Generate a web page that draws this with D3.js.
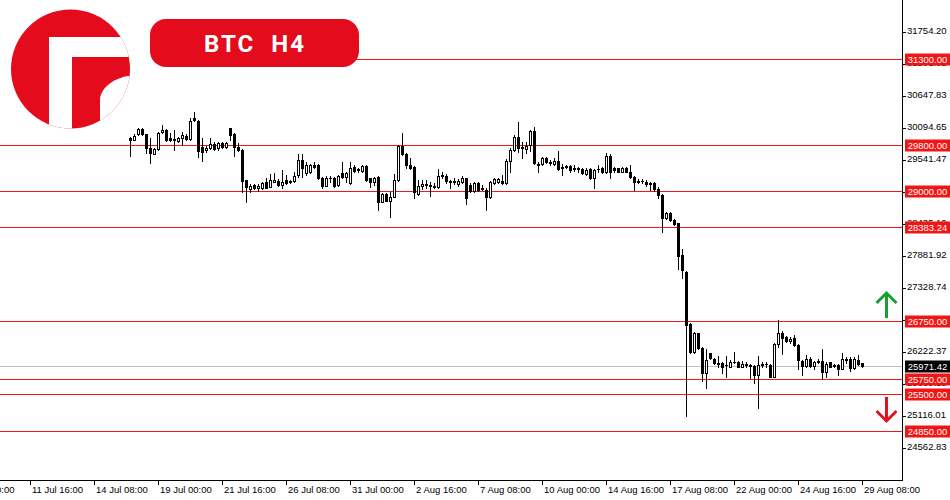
<!DOCTYPE html>
<html>
<head>
<meta charset="utf-8">
<script src="https://cdn.jsdelivr.net/npm/d3@7/dist/d3.min.js"></script>
<style>
  body { margin: 0; background: #fff; }
  svg { display: block; }
  .tick-label { font-family: "Liberation Sans", Arial, sans-serif; font-size: 9.5px; fill: #000; }
</style>
</head>
<body>
<div id="chart"></div>
<script>
// BTC H4 candles (17 Jul 20:00 .. 29 Aug 08:00)
var opens = [29918,29895,29987,30080,29987,29756,29652,29733,30022,30068,29918,29906,29872,29918,29958,29906,30264,30218,29774,29710,
  29745,29814,29745,29831,29774,30091,29987,29774,29716,29191,29041,29110,29064,29052,29156,29081,29168,29179,29110,29197,
  29168,29179,29283,29543,29312,29329,29456,29456,29237,29099,29225,29225,29110,29312,29254,29139,29427,29387,29352,29439,
  29225,29168,29254,28821,28954,28839,28908,29197,29791,29641,29456,29427,28949,29099,29122,29110,29099,29081,29266,29272,
  29185,29168,29127,29168,29225,29110,29006,29139,29064,29024,28908,29139,29168,29179,29139,29526,29716,29947,29774,29728,
  29803,30045,29468,29468,29583,29514,29480,29526,29427,29422,29445,29410,29393,29387,29295,29387,29225,29381,29399,29341,
  29618,29399,29399,29341,29410,29341,29248,29179,29173,29168,29139,29139,29041,28937,28533,28620,28504,28447,27899,27610,
  26704,26225,26543,26283,25862,26196,26093,26023,26023,25989,25966,26046,26052,25966,26012,26000,25977,25821,25995,26006,
  26000,25793,26358,26554,26473,26410,26468,26341,26064,25983,26093,25983,26046,26064,25879,26041,25989,25989,25931,26087,
  26093,25937,26081,26023];
var highs = [29947,29987,30103,30091,29999,29918,29756,30022,30149,30080,30004,30062,29947,30033,29987,30276,30380,30230,29918,29779,
  29918,29849,29860,29860,29860,30103,30004,29831,29733,29202,29121,29133,29121,29156,29237,29295,29312,29214,29364,29283,
  29197,29341,29641,29641,29514,29468,29514,29468,29248,29260,29272,29248,29283,29502,29341,29502,29456,29410,29456,29456,
  29237,29254,29272,28966,28966,28983,29295,29803,30005,29658,29572,29439,29197,29191,29197,29168,29139,29387,29341,29306,
  29197,29237,29214,29272,29237,29139,29168,29156,29110,29052,29179,29237,29237,29283,29554,29745,29976,30207,29860,29860,
  30062,30114,29514,29601,29601,29543,29572,29699,29468,29456,29456,29456,29427,29399,29399,29399,29387,29456,29427,29670,
  29641,29427,29410,29427,29427,29456,29260,29214,29214,29197,29168,29168,29081,28949,28637,28637,28521,28459,27997,27622,
  26716,26560,26554,26300,26266,26208,26110,26150,26052,26150,26081,26214,26064,26070,26052,26012,25995,26150,26052,26052,
  26012,26370,26774,26589,26497,26485,26514,26358,26081,26168,26127,26070,26093,26266,26052,26052,26012,26012,26196,26139,
  26139,26139,26162,26035];
var lows = [29618,29884,29976,29976,29658,29485,29641,29722,30010,29872,29872,29716,29849,29803,29884,29895,30218,29601,29531,29687,
  29733,29716,29716,29745,29745,29889,29618,29699,28983,28821,28983,29041,29006,29041,29052,29070,29156,29099,29064,29127,
  29150,29168,29254,29254,29283,29312,29410,29214,29052,29087,29168,29081,29099,29237,29168,29122,29341,29341,29329,29179,
  29081,29110,28677,28810,28833,28562,28897,29179,29629,29399,29387,28891,28937,29041,29052,28925,29052,29064,29225,29139,
  29064,29122,29099,29139,28776,28995,28995,29006,29024,28677,28891,29122,29139,29127,29127,29341,29699,29676,29583,29658,
  29699,29474,29341,29456,29485,29456,29456,29370,29283,29399,29341,29352,29329,29295,29283,29214,29064,29341,29312,29312,
  29225,29341,29329,29329,29329,29225,29024,29139,29139,29099,29024,29006,28879,28302,28521,28487,28418,27651,27495,25112,
  26208,26208,26266,25723,25590,26093,26012,25954,25850,25781,25954,26023,25954,25954,25966,25764,25689,25256,25954,25966,
  25781,25781,26312,26185,26387,26370,26323,25920,25821,25966,25966,25931,26023,25752,25793,25954,25954,25821,25919,26023,
  25896,25919,26000,25954];
var closes = [29884,29964,30080,29987,29745,29658,29733,30004,30062,29889,29884,29889,29929,29976,29906,30218,30230,29699,29687,29756,
  29814,29733,29831,29774,29831,29976,29774,29716,29179,29081,29099,29064,29099,29145,29064,29197,29197,29110,29168,29139,
  29179,29272,29543,29399,29456,29456,29427,29225,29099,29237,29237,29099,29272,29254,29312,29410,29352,29376,29439,29197,
  29168,29237,28821,28954,28839,28897,29197,29791,29641,29456,29410,28983,29099,29122,29104,29099,29075,29272,29277,29185,
  29168,29179,29179,29225,28891,29006,29139,29018,29041,28908,29168,29214,29214,29139,29526,29716,29947,29745,29745,29791,
  30045,29485,29456,29583,29502,29485,29526,29387,29410,29433,29370,29393,29399,29312,29370,29225,29370,29393,29341,29618,
  29341,29370,29341,29410,29341,29248,29168,29168,29179,29122,29122,29041,28937,28544,28620,28504,28429,27882,27639,26687,
  26225,26543,26283,25862,26081,26110,26023,26012,25954,26000,26052,26052,25966,26012,25989,25972,25821,25989,26012,26012,
  25793,26358,26543,26456,26410,26450,26341,26081,25983,26093,25983,26046,26064,25879,26012,25966,25977,25919,26093,26098,
  25948,26093,26012,25971];

// support / resistance levels and the current bid
var levels = [31300.00, 29800.00, 29000.00, 28383.24, 26750.00, 25750.00, 25500.00, 24850.00];
var lastPrice = 25971.42;

// right price scale ticks
var priceTicks = [31754.20, 31201.02, 30647.83, 30094.65, 29541.47, 28988.29, 28435.10,
  27881.92, 27328.74, 26775.56, 26222.37, 25669.19, 25116.01, 24562.83];

// time axis: bar index of each label (0 = first candle)
var timeLabels = ["7 Jul 00:00", "11 Jul 16:00", "14 Jul 08:00", "19 Jul 00:00", "21 Jul 16:00", "26 Jul 08:00",
  "31 Jul 00:00", "2 Aug 16:00", "7 Aug 08:00", "10 Aug 00:00", "14 Aug 16:00", "17 Aug 08:00",
  "22 Aug 00:00", "24 Aug 16:00", "29 Aug 08:00"];
var timeBars = [-41, -25, -9, 7, 23, 39, 55, 71, 87, 103, 119, 135, 151, 167, 183];

var W = 950, H = 500;
var plotRight = 902, plotBottom = 480;

var svg = d3.select('#chart').append('svg')
    .attr('width', W)
    .attr('height', H);

var x = d3.scaleLinear().domain([0, 183]).range([130, 862]);
var y = d3.scaleLinear().domain([24562.83, 31754.20]).range([447.7, 32.3]);

var red = "#ee1818";
var brand = "#e30b1c";

// current price line
svg.append("line")
    .attr("x1", 0).attr("x2", plotRight)
    .attr("y1", Math.round(y(lastPrice)) + 0.5).attr("y2", Math.round(y(lastPrice)) + 0.5)
    .attr("stroke", "#c0c0c0");

// level lines
svg.selectAll("line.level")
  .data(levels)
  .join("line")
    .attr("class", "level")
    .attr("x1", (d, i) => i == 0 ? 340 : 0)
    .attr("x2", plotRight)
    .attr("y1", d => Math.round(y(d)) + 0.5)
    .attr("y2", d => Math.round(y(d)) + 0.5)
    .attr("stroke", red);

// candles
var candles = d3.range(opens.length).map(i => ({ o: opens[i], h: highs[i], l: lows[i], c: closes[i], i: i }));
var g = svg.append("g").attr("shape-rendering", "crispEdges");

g.selectAll("line.wick")
  .data(candles)
  .join("line")
    .attr("class", "wick")
    .attr("x1", d => Math.round(x(d.i)) + 0.5)
    .attr("x2", d => Math.round(x(d.i)) + 0.5)
    .attr("y1", d => Math.round(y(d.h)))
    .attr("y2", d => Math.round(y(d.l)) + 1)
    .attr("stroke", "#000");

g.selectAll("rect.body")
  .data(candles)
  .join("rect")
    .attr("class", "body")
    .each(function(d) {
      var top = Math.round(y(Math.max(d.o, d.c)));
      var bot = Math.round(y(Math.min(d.o, d.c)));
      var cx = Math.round(x(d.i));
      var el = d3.select(this);
      if (d.c >= d.o && bot - top >= 2) {
        el.attr("x", cx - 0.5).attr("y", top + 0.5)
          .attr("width", 2).attr("height", bot - top)
          .attr("fill", "#fff").attr("stroke", "#000");
      } else {
        el.attr("x", cx - 1).attr("y", top)
          .attr("width", 3).attr("height", Math.max(1, bot - top + 1))
          .attr("fill", "#000");
      }
    });

// frame
svg.append("line").attr("x1", plotRight + 0.5).attr("x2", plotRight + 0.5)
    .attr("y1", 0).attr("y2", plotBottom + 0.5).attr("stroke", "#000");
svg.append("line").attr("x1", 0).attr("x2", plotRight + 1)
    .attr("y1", plotBottom + 0.5).attr("y2", plotBottom + 0.5).attr("stroke", "#000");

// price axis
var pa = svg.append("g").attr("shape-rendering", "crispEdges");
pa.selectAll("line")
  .data(priceTicks)
  .join("line")
    .attr("x1", plotRight).attr("x2", plotRight + 4)
    .attr("y1", d => Math.round(y(d)) + 0.5).attr("y2", d => Math.round(y(d)) + 0.5)
    .attr("stroke", "#000");
svg.selectAll("text.ptick")
  .data(priceTicks)
  .join("text")
    .attr("class", "tick-label ptick")
    .attr("x", plotRight + 5)
    .attr("y", d => Math.round(y(d)) + 2)
    .text(d => d.toFixed(2));

// time axis
svg.selectAll("line.ttick")
  .data(timeBars)
  .join("line")
    .attr("class", "ttick")
    .attr("shape-rendering", "crispEdges")
    .attr("x1", d => Math.round(x(d)) + 0.5).attr("x2", d => Math.round(x(d)) + 0.5)
    .attr("y1", plotBottom).attr("y2", plotBottom + 5)
    .attr("stroke", "#000");
svg.selectAll("text.ttext")
  .data(timeBars)
  .join("text")
    .attr("class", "tick-label ttext")
    .attr("x", d => Math.round(x(d)) + 2)
    .attr("y", plotBottom + 13)
    .text((d, i) => timeLabels[i]);

// price labels on the scale
function priceTag(v, fill) {
  var yy = Math.round(y(v));
  svg.append("rect")
    .attr("x", plotRight + 3).attr("y", yy - 5.5)
    .attr("width", 45).attr("height", 12)
    .attr("fill", fill);
  svg.append("text")
    .attr("class", "tick-label")
    .attr("x", plotRight + 25.5).attr("y", yy + 4)
    .attr("text-anchor", "middle")
    .style("fill", "#fff")
    .text(v.toFixed(2));
}
levels.forEach(v => priceTag(v, "#f31414"));
priceTag(lastPrice, "#000");

// arrows
function arrow(x0, yTip, yTail, color) {
  var dir = yTail > yTip ? 1 : -1;
  svg.append("path")
    .attr("d", `M${x0},${yTail} L${x0},${yTip + dir} M${x0 - 10},${yTip + dir * 10} L${x0},${yTip} L${x0 + 10},${yTip + dir * 10}`)
    .attr("fill", "none")
    .attr("stroke", color)
    .attr("stroke-width", 3);
}
arrow(886.5, 293, 318, "#17a02e");
arrow(886.5, 421, 397, "#e0141e");

// logo: red disc with a white "F" cut out
var defs = svg.append("defs");
defs.append("clipPath").attr("id", "logoClip")
  .append("circle").attr("cx", 70.5).attr("cy", 69).attr("r", 59.5);
var logo = svg.append("g").attr("clip-path", "url(#logoClip)");
logo.append("rect").attr("x", 0).attr("y", 0).attr("width", 140).attr("height", 140).attr("fill", brand);
logo.append("rect").attr("x", 49).attr("y", 37).attr("width", 23).attr("height", 100).attr("fill", "#fff");
logo.append("rect").attr("x", 49).attr("y", 37).attr("width", 100).attr("height", 20).attr("rx", 3).attr("fill", "#fff");
logo.append("path")
    .attr("d", "M160,76 L128,76 C118,77 101,86 100,99 L100,140 L160,140 Z")
    .attr("fill", "#fff");

// title badge
svg.append("rect")
    .attr("x", 150).attr("y", 19)
    .attr("width", 209).attr("height", 48)
    .attr("rx", 16)
    .attr("fill", brand);
svg.append("text")
    .attr("x", 255).attr("y", 52)
    .attr("text-anchor", "middle")
    .style("font-family", "Roboto, 'Liberation Sans', sans-serif")
    .style("font-weight", 700)
    .style("font-size", "24px")
    .style("letter-spacing", "2px")
    .style("fill", "#fff")
    .text("BTC\u00a0\u00a0H4");
</script>
</body>
</html>
